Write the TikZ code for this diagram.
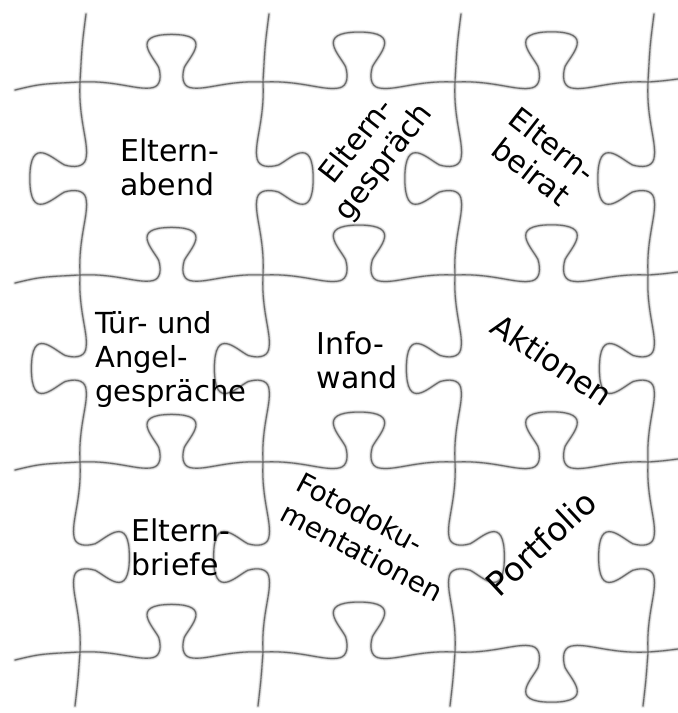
\documentclass[tikz,border=0pt]{standalone}
\usepackage{fontspec}
\newfontfamily\puzfont{DejaVu Sans}

\tikzset{
  halo/.style  = {draw=black!8, line width=4.5pt, line cap=round},
  shade/.style = {draw=black!25, line width=2.4pt, line cap=round},
  cut/.style   = {draw=black!58, line width=1.1pt, line cap=round},
  word/.style  = {font=\puzfont\fontsize{#1}{34}\selectfont, align=left, inner sep=0pt},
  word/.default = 30
}

% one cut from (#1,#2) to (#3,#4) with a knob on side #5, drawn in style #6
\newcommand{\knobedge}[6]{%
  \pgfmathsetmacro{\ax}{#3-#1}%
  \pgfmathsetmacro{\ay}{#2-#4}%
  \pgfmathsetmacro{\nx}{-(#5)*\ay}%
  \pgfmathsetmacro{\ny}{(#5)*\ax}%
  \begin{scope}[shift={(#1,#2)}, x={(\ax pt,\ay pt)}, y={(\nx pt,\ny pt)}]
    \draw[#6] (0,0) .. controls (0.2,0.01) and (0.32,-0.05) .. (0.40,-0.03)
      .. controls (0.44,-0.02) and (0.445,0.03) .. (0.43,0.08)
      .. controls (0.40,0.14) and (0.27,0.26) .. (0.5,0.26)
      .. controls (0.73,0.26) and (0.60,0.14) .. (0.57,0.08)
      .. controls (0.555,0.03) and (0.56,-0.02) .. (0.60,-0.03)
      .. controls (0.68,-0.05) and (0.8,0.01) .. (1,0);
  \end{scope}%
}

% all cuts of the puzzle in style #1
\newcommand{\puzzlecuts}[1]{%
  % horizontal cuts
  \foreach \yy/\sa/\sb/\sc in {82/1/1/1, 275/1/1/1, 462/1/1/1, 652/1/1/-1}{
    \knobedge{80}{\yy}{263}{\yy}{\sa}{#1}
    \knobedge{263}{\yy}{455}{\yy}{\sb}{#1}
    \knobedge{455}{\yy}{648}{\yy}{\sc}{#1}
    \draw[#1] (15,\yy+8) .. controls (40,\yy+2) .. (80,\yy);
    \draw[#1] (648,\yy) .. controls (662,\yy-1) .. (678,\yy-3);
  }
  % vertical cuts
  \foreach \xx/\sa/\sb/\sc in {80/-1/-1/1, 263/1/-1/-1, 455/-1/-1/1, 648/-1/-1/-1}{
    \knobedge{\xx}{82}{\xx}{275}{\sa}{#1}
    \knobedge{\xx}{275}{\xx}{462}{\sb}{#1}
    \knobedge{\xx}{462}{\xx}{652}{\sc}{#1}
    \draw[#1] (\xx+6,14) .. controls (\xx+2,45) .. (\xx,82);
    \draw[#1] (\xx,652) .. controls (\xx-2,680) .. (\xx-5,706);
  }
}

\begin{document}
\begin{tikzpicture}[x=1pt, y=-1pt]
  \useasboundingbox (0,0) rectangle (678,713);

  %Cuts
  \puzzlecuts{halo}
  \puzzlecuts{shade}
  \puzzlecuts{cut}

  %Words
  \node[word]                          (abend)     at (170,167) {Eltern-\\abend};
  \node[word, rotate=52, align=center] (gespraech) at (371,152) {Eltern-\\gespräch};
  \node[word, rotate=-38, align=center](beirat)    at (542,158) {Eltern-\\beirat};
  \node[word=29]                       (tuer)      at (171,359) {Tür- und\\Angel-\\gespräche};
  \node[word]                          (info)      at (357,360) {Info-\\wand};
  \node[word=31, rotate=-34]           (aktionen)  at (552,360) {Aktionen};
  \node[word]                          (briefe)    at (181,547) {Eltern-\\briefe};
  \node[word=28, rotate=-28]           (foto)      at (370,537) {Fotodoku-\\mentationen};
  \node[word=33, rotate=43]            (portfolio) at (541,543) {Portfolio};
\end{tikzpicture}
\end{document}
